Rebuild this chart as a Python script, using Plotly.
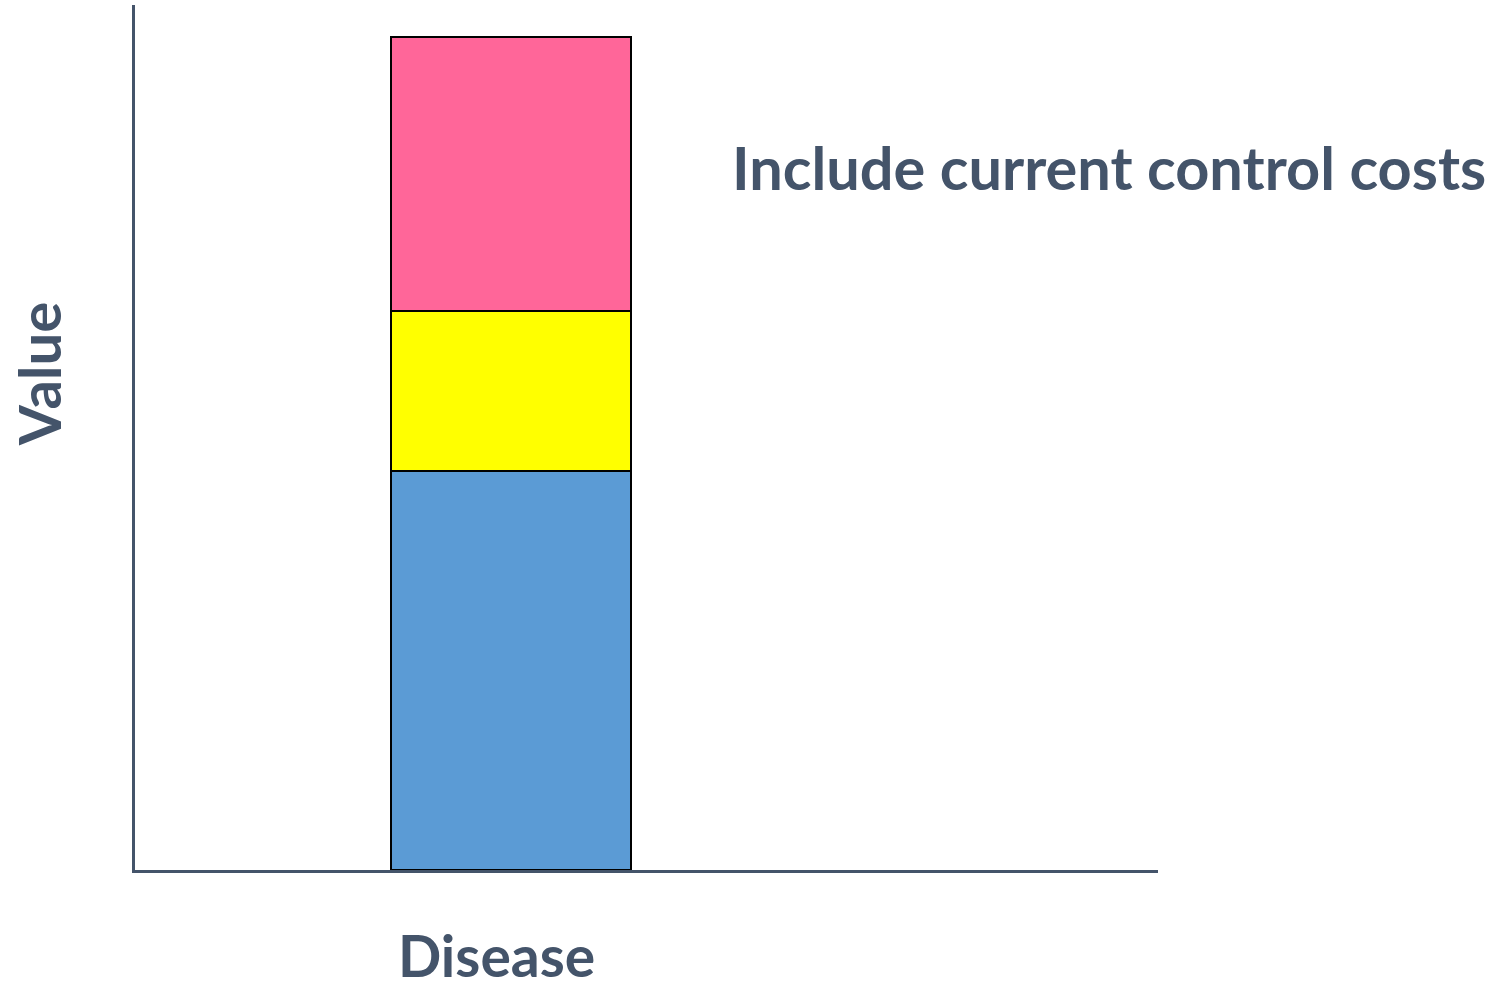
import plotly.graph_objects as go

categories = ["Disease"]
series_names = ["Base", "Middle", "Top"]
base_values = [4.61]
middle_values = [1.85]
top_values = [3.17]
colors = ["#5B9BD5", "#FFFF00", "#FF6699"]

x_title = "Disease"
y_title = "Value"
note_text = "Include current control costs"
text_color = "#44546A"

fig = go.Figure()
for name, vals, col in zip(series_names, [base_values, middle_values, top_values], colors):
    fig.add_trace(go.Bar(
        x=categories, y=vals, name=name, width=1.0,
        marker=dict(color=col, line=dict(color="#000000", width=2.5)),
        showlegend=False, hoverinfo="skip",
    ))

font_family = "Lato"
fig.update_layout(
    barmode="stack",
    width=1493, height=992,
    margin=dict(l=135, r=335, t=5, b=122),
    paper_bgcolor="white", plot_bgcolor="white",
    xaxis=dict(range=[-1.567, 2.696], showline=True, linecolor=text_color, linewidth=3,
               showticklabels=False, ticks="", showgrid=False, zeroline=False),
    yaxis=dict(range=[0, 10], showline=True, linecolor=text_color, linewidth=3,
               showticklabels=False, ticks="", showgrid=False, zeroline=False),
    annotations=[
        dict(text=note_text, xref="paper", yref="paper", x=0.5816, y=0.8127,
             xanchor="left", yanchor="middle", showarrow=False,
             font=dict(family=font_family, size=59.5, color=text_color, weight=700)),
        dict(text=x_title, xref="paper", yref="paper", x=0.353, y=-0.0985,
             xanchor="center", yanchor="middle", showarrow=False,
             font=dict(family=font_family, size=57, color=text_color, weight=700)),
        dict(text=y_title, xref="paper", yref="paper", x=-0.0949, y=0.573,
             xanchor="center", yanchor="middle", showarrow=False, textangle=-90,
             font=dict(family=font_family, size=58, color=text_color, weight=700)),
    ],
)

fig.write_html("out.html")
